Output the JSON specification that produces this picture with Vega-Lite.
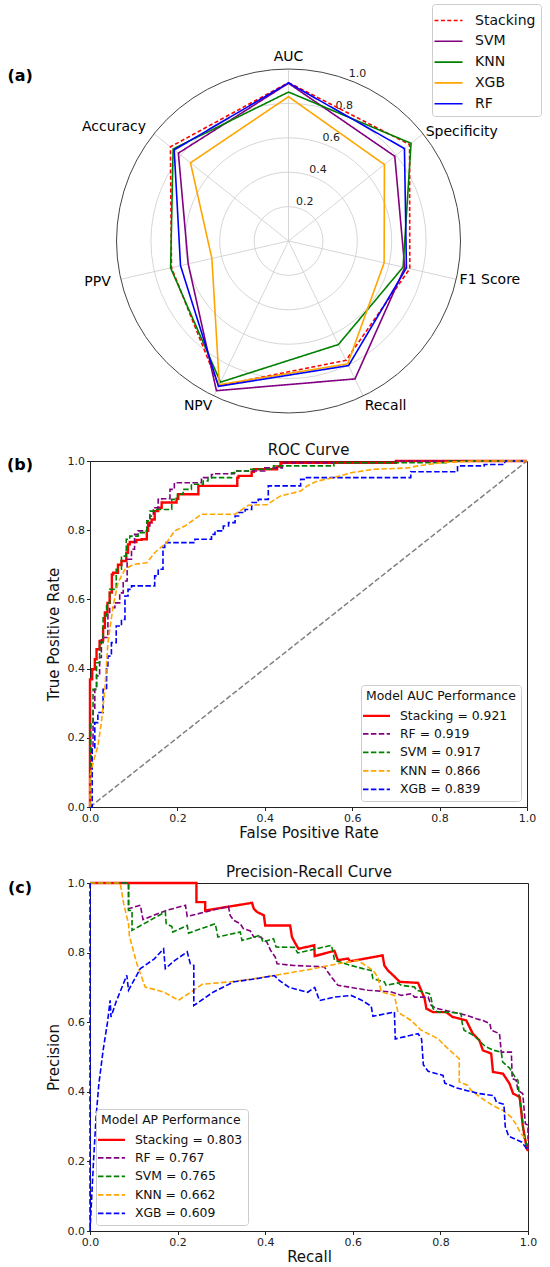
{
"$schema": "https://vega.github.io/schema/vega-lite/v6.json",
"background": "white",
"padding": {"left": 6, "top": 3, "right": 0, "bottom": 0},
"spacing": 23,
"config": {
  "font": "DejaVu Sans",
  "view": {"stroke": "#222222", "strokeWidth": 1},
  "axis": {"grid": false, "domainColor": "#222222", "tickColor": "#222222", "labelColor": "#222222", "titleColor": "#111111", "tickSize": 3.5, "labelFontSize": 11, "titleFontSize": 15, "titleFontWeight": "normal", "labelPadding": 2, "labelFlush": false},
  "axisX": {"titlePadding": 2},
  "axisY": {"titlePadding": 6},
  "title": {"fontSize": 15, "fontWeight": "normal", "color": "#111111", "offset": -3},
  "legend": {"titleFontWeight": "normal", "labelColor": "#111111", "titleColor": "#111111", "strokeColor": "#cccccc", "fillColor": "rgba(255,255,255,0.85)", "cornerRadius": 3}
},
"resolve": {"scale": {"color": "independent", "strokeDash": "independent", "strokeWidth": "independent"}, "legend": {"color": "independent", "strokeDash": "independent", "strokeWidth": "independent"}},
"datasets": {
  "metrics": [
    {"metric": "AUC", "k": 0}, {"metric": "Specificity", "k": 1}, {"metric": "F1 Score", "k": 2}, {"metric": "Recall", "k": 3}, {"metric": "NPV", "k": 4}, {"metric": "PPV", "k": 5}, {"metric": "Accuracy", "k": 6}
  ],
  "radar": [
    {"model": "Stacking", "k": 0, "value": 0.921}, {"model": "Stacking", "k": 1, "value": 0.9}, {"model": "Stacking", "k": 2, "value": 0.723}, {"model": "Stacking", "k": 3, "value": 0.77}, {"model": "Stacking", "k": 4, "value": 0.935}, {"model": "Stacking", "k": 5, "value": 0.698}, {"model": "Stacking", "k": 6, "value": 0.878},
    {"model": "SVM", "k": 0, "value": 0.917}, {"model": "SVM", "k": 1, "value": 0.79}, {"model": "SVM", "k": 2, "value": 0.693}, {"model": "SVM", "k": 3, "value": 0.89}, {"model": "SVM", "k": 4, "value": 0.966}, {"model": "SVM", "k": 5, "value": 0.598}, {"model": "SVM", "k": 6, "value": 0.819},
    {"model": "KNN", "k": 0, "value": 0.866}, {"model": "KNN", "k": 1, "value": 0.911}, {"model": "KNN", "k": 2, "value": 0.683}, {"model": "KNN", "k": 3, "value": 0.668}, {"model": "KNN", "k": 4, "value": 0.911}, {"model": "KNN", "k": 5, "value": 0.703}, {"model": "KNN", "k": 6, "value": 0.858},
    {"model": "XGB", "k": 0, "value": 0.839}, {"model": "XGB", "k": 1, "value": 0.713}, {"model": "XGB", "k": 2, "value": 0.57}, {"model": "XGB", "k": 3, "value": 0.793}, {"model": "XGB", "k": 4, "value": 0.927}, {"model": "XGB", "k": 5, "value": 0.457}, {"model": "XGB", "k": 6, "value": 0.729},
    {"model": "RF", "k": 0, "value": 0.919}, {"model": "RF", "k": 1, "value": 0.862}, {"model": "RF", "k": 2, "value": 0.703}, {"model": "RF", "k": 3, "value": 0.804}, {"model": "RF", "k": 4, "value": 0.938}, {"model": "RF", "k": 5, "value": 0.644}, {"model": "RF", "k": 6, "value": 0.85}
  ],
  "roc": [
    {"model":"Stacking = 0.921","fpr":0,"tpr":0},{"model":"Stacking = 0.921","fpr":0,"tpr":0.253},{"model":"Stacking = 0.921","fpr":0.005,"tpr":0.369},{"model":"Stacking = 0.921","fpr":0.011,"tpr":0.398},{"model":"Stacking = 0.921","fpr":0.015,"tpr":0.427},{"model":"Stacking = 0.921","fpr":0.022,"tpr":0.456},{"model":"Stacking = 0.921","fpr":0.03,"tpr":0.48},{"model":"Stacking = 0.921","fpr":0.034,"tpr":0.518},{"model":"Stacking = 0.921","fpr":0.04,"tpr":0.562},{"model":"Stacking = 0.921","fpr":0.045,"tpr":0.59},{"model":"Stacking = 0.921","fpr":0.05,"tpr":0.62},{"model":"Stacking = 0.921","fpr":0.053,"tpr":0.672},{"model":"Stacking = 0.921","fpr":0.064,"tpr":0.677},{"model":"Stacking = 0.921","fpr":0.072,"tpr":0.7},{"model":"Stacking = 0.921","fpr":0.083,"tpr":0.711},{"model":"Stacking = 0.921","fpr":0.087,"tpr":0.735},{"model":"Stacking = 0.921","fpr":0.091,"tpr":0.759},{"model":"Stacking = 0.921","fpr":0.106,"tpr":0.766},{"model":"Stacking = 0.921","fpr":0.118,"tpr":0.772},{"model":"Stacking = 0.921","fpr":0.13,"tpr":0.774},{"model":"Stacking = 0.921","fpr":0.133,"tpr":0.798},{"model":"Stacking = 0.921","fpr":0.141,"tpr":0.822},{"model":"Stacking = 0.921","fpr":0.148,"tpr":0.831},{"model":"Stacking = 0.921","fpr":0.156,"tpr":0.855},{"model":"Stacking = 0.921","fpr":0.164,"tpr":0.865},{"model":"Stacking = 0.921","fpr":0.171,"tpr":0.88},{"model":"Stacking = 0.921","fpr":0.198,"tpr":0.88},{"model":"Stacking = 0.921","fpr":0.202,"tpr":0.891},{"model":"Stacking = 0.921","fpr":0.217,"tpr":0.904},{"model":"Stacking = 0.921","fpr":0.248,"tpr":0.904},{"model":"Stacking = 0.921","fpr":0.255,"tpr":0.928},{"model":"Stacking = 0.921","fpr":0.337,"tpr":0.928},{"model":"Stacking = 0.921","fpr":0.34,"tpr":0.952},{"model":"Stacking = 0.921","fpr":0.37,"tpr":0.957},{"model":"Stacking = 0.921","fpr":0.375,"tpr":0.969},{"model":"Stacking = 0.921","fpr":0.428,"tpr":0.976},{"model":"Stacking = 0.921","fpr":0.436,"tpr":0.984},{"model":"Stacking = 0.921","fpr":0.474,"tpr":0.995},{"model":"Stacking = 0.921","fpr":0.7,"tpr":0.995},{"model":"Stacking = 0.921","fpr":0.7,"tpr":1},{"model":"Stacking = 0.921","fpr":1,"tpr":1},
    {"model":"RF = 0.919","fpr":0,"tpr":0},{"model":"RF = 0.919","fpr":0.003,"tpr":0.1},{"model":"RF = 0.919","fpr":0.007,"tpr":0.167},{"model":"RF = 0.919","fpr":0.011,"tpr":0.282},{"model":"RF = 0.919","fpr":0.015,"tpr":0.34},{"model":"RF = 0.919","fpr":0.022,"tpr":0.379},{"model":"RF = 0.919","fpr":0.026,"tpr":0.432},{"model":"RF = 0.919","fpr":0.041,"tpr":0.49},{"model":"RF = 0.919","fpr":0.045,"tpr":0.562},{"model":"RF = 0.919","fpr":0.057,"tpr":0.576},{"model":"RF = 0.919","fpr":0.068,"tpr":0.59},{"model":"RF = 0.919","fpr":0.076,"tpr":0.619},{"model":"RF = 0.919","fpr":0.085,"tpr":0.653},{"model":"RF = 0.919","fpr":0.095,"tpr":0.716},{"model":"RF = 0.919","fpr":0.102,"tpr":0.745},{"model":"RF = 0.919","fpr":0.11,"tpr":0.788},{"model":"RF = 0.919","fpr":0.13,"tpr":0.798},{"model":"RF = 0.919","fpr":0.137,"tpr":0.812},{"model":"RF = 0.919","fpr":0.145,"tpr":0.841},{"model":"RF = 0.919","fpr":0.156,"tpr":0.865},{"model":"RF = 0.919","fpr":0.164,"tpr":0.889},{"model":"RF = 0.919","fpr":0.183,"tpr":0.891},{"model":"RF = 0.919","fpr":0.193,"tpr":0.918},{"model":"RF = 0.919","fpr":0.202,"tpr":0.937},{"model":"RF = 0.919","fpr":0.255,"tpr":0.937},{"model":"RF = 0.919","fpr":0.26,"tpr":0.947},{"model":"RF = 0.919","fpr":0.278,"tpr":0.952},{"model":"RF = 0.919","fpr":0.283,"tpr":0.961},{"model":"RF = 0.919","fpr":0.33,"tpr":0.963},{"model":"RF = 0.919","fpr":0.4,"tpr":0.971},{"model":"RF = 0.919","fpr":0.44,"tpr":0.98},{"model":"RF = 0.919","fpr":0.467,"tpr":0.995},{"model":"RF = 0.919","fpr":0.7,"tpr":0.995},{"model":"RF = 0.919","fpr":0.7,"tpr":1},{"model":"RF = 0.919","fpr":1,"tpr":1},
    {"model":"SVM = 0.917","fpr":0,"tpr":0},{"model":"SVM = 0.917","fpr":0.002,"tpr":0.147},{"model":"SVM = 0.917","fpr":0.007,"tpr":0.244},{"model":"SVM = 0.917","fpr":0.015,"tpr":0.34},{"model":"SVM = 0.917","fpr":0.022,"tpr":0.417},{"model":"SVM = 0.917","fpr":0.03,"tpr":0.475},{"model":"SVM = 0.917","fpr":0.038,"tpr":0.552},{"model":"SVM = 0.917","fpr":0.045,"tpr":0.59},{"model":"SVM = 0.917","fpr":0.06,"tpr":0.629},{"model":"SVM = 0.917","fpr":0.072,"tpr":0.687},{"model":"SVM = 0.917","fpr":0.083,"tpr":0.725},{"model":"SVM = 0.917","fpr":0.091,"tpr":0.774},{"model":"SVM = 0.917","fpr":0.11,"tpr":0.783},{"model":"SVM = 0.917","fpr":0.13,"tpr":0.793},{"model":"SVM = 0.917","fpr":0.137,"tpr":0.827},{"model":"SVM = 0.917","fpr":0.148,"tpr":0.855},{"model":"SVM = 0.917","fpr":0.187,"tpr":0.86},{"model":"SVM = 0.917","fpr":0.2,"tpr":0.889},{"model":"SVM = 0.917","fpr":0.213,"tpr":0.904},{"model":"SVM = 0.917","fpr":0.232,"tpr":0.918},{"model":"SVM = 0.917","fpr":0.259,"tpr":0.933},{"model":"SVM = 0.917","fpr":0.27,"tpr":0.942},{"model":"SVM = 0.917","fpr":0.324,"tpr":0.952},{"model":"SVM = 0.917","fpr":0.332,"tpr":0.966},{"model":"SVM = 0.917","fpr":0.362,"tpr":0.971},{"model":"SVM = 0.917","fpr":0.42,"tpr":0.976},{"model":"SVM = 0.917","fpr":0.474,"tpr":0.986},{"model":"SVM = 0.917","fpr":0.558,"tpr":0.986},{"model":"SVM = 0.917","fpr":0.566,"tpr":0.995},{"model":"SVM = 0.917","fpr":0.815,"tpr":0.995},{"model":"SVM = 0.917","fpr":0.815,"tpr":1},{"model":"SVM = 0.917","fpr":1,"tpr":1},
    {"model":"KNN = 0.866","fpr":0,"tpr":0},{"model":"KNN = 0.866","fpr":0,"tpr":0.09},{"model":"KNN = 0.866","fpr":0.007,"tpr":0.128},{"model":"KNN = 0.866","fpr":0.018,"tpr":0.176},{"model":"KNN = 0.866","fpr":0.026,"tpr":0.244},{"model":"KNN = 0.866","fpr":0.034,"tpr":0.34},{"model":"KNN = 0.866","fpr":0.041,"tpr":0.475},{"model":"KNN = 0.866","fpr":0.053,"tpr":0.581},{"model":"KNN = 0.866","fpr":0.064,"tpr":0.648},{"model":"KNN = 0.866","fpr":0.08,"tpr":0.687},{"model":"KNN = 0.866","fpr":0.099,"tpr":0.701},{"model":"KNN = 0.866","fpr":0.13,"tpr":0.706},{"model":"KNN = 0.866","fpr":0.148,"tpr":0.735},{"model":"KNN = 0.866","fpr":0.175,"tpr":0.764},{"model":"KNN = 0.866","fpr":0.194,"tpr":0.798},{"model":"KNN = 0.866","fpr":0.217,"tpr":0.812},{"model":"KNN = 0.866","fpr":0.255,"tpr":0.846},{"model":"KNN = 0.866","fpr":0.332,"tpr":0.846},{"model":"KNN = 0.866","fpr":0.362,"tpr":0.872},{"model":"KNN = 0.866","fpr":0.405,"tpr":0.874},{"model":"KNN = 0.866","fpr":0.436,"tpr":0.899},{"model":"KNN = 0.866","fpr":0.482,"tpr":0.913},{"model":"KNN = 0.866","fpr":0.497,"tpr":0.928},{"model":"KNN = 0.866","fpr":0.52,"tpr":0.942},{"model":"KNN = 0.866","fpr":0.558,"tpr":0.952},{"model":"KNN = 0.866","fpr":0.597,"tpr":0.966},{"model":"KNN = 0.866","fpr":0.65,"tpr":0.976},{"model":"KNN = 0.866","fpr":0.727,"tpr":0.98},{"model":"KNN = 0.866","fpr":0.75,"tpr":0.986},{"model":"KNN = 0.866","fpr":0.803,"tpr":0.995},{"model":"KNN = 0.866","fpr":0.88,"tpr":1},{"model":"KNN = 0.866","fpr":1,"tpr":1},
    {"model":"XGB = 0.839","fpr":0,"tpr":0},{"model":"XGB = 0.839","fpr":0.005,"tpr":0},{"model":"XGB = 0.839","fpr":0.005,"tpr":0.09},{"model":"XGB = 0.839","fpr":0.011,"tpr":0.167},{"model":"XGB = 0.839","fpr":0.018,"tpr":0.244},{"model":"XGB = 0.839","fpr":0.03,"tpr":0.273},{"model":"XGB = 0.839","fpr":0.038,"tpr":0.34},{"model":"XGB = 0.839","fpr":0.041,"tpr":0.408},{"model":"XGB = 0.839","fpr":0.049,"tpr":0.436},{"model":"XGB = 0.839","fpr":0.06,"tpr":0.475},{"model":"XGB = 0.839","fpr":0.072,"tpr":0.523},{"model":"XGB = 0.839","fpr":0.08,"tpr":0.542},{"model":"XGB = 0.839","fpr":0.087,"tpr":0.61},{"model":"XGB = 0.839","fpr":0.095,"tpr":0.629},{"model":"XGB = 0.839","fpr":0.102,"tpr":0.639},{"model":"XGB = 0.839","fpr":0.148,"tpr":0.639},{"model":"XGB = 0.839","fpr":0.156,"tpr":0.668},{"model":"XGB = 0.839","fpr":0.167,"tpr":0.687},{"model":"XGB = 0.839","fpr":0.171,"tpr":0.75},{"model":"XGB = 0.839","fpr":0.183,"tpr":0.764},{"model":"XGB = 0.839","fpr":0.24,"tpr":0.764},{"model":"XGB = 0.839","fpr":0.252,"tpr":0.774},{"model":"XGB = 0.839","fpr":0.278,"tpr":0.774},{"model":"XGB = 0.839","fpr":0.286,"tpr":0.788},{"model":"XGB = 0.839","fpr":0.305,"tpr":0.798},{"model":"XGB = 0.839","fpr":0.317,"tpr":0.812},{"model":"XGB = 0.839","fpr":0.332,"tpr":0.822},{"model":"XGB = 0.839","fpr":0.34,"tpr":0.841},{"model":"XGB = 0.839","fpr":0.355,"tpr":0.851},{"model":"XGB = 0.839","fpr":0.37,"tpr":0.86},{"model":"XGB = 0.839","fpr":0.385,"tpr":0.88},{"model":"XGB = 0.839","fpr":0.408,"tpr":0.889},{"model":"XGB = 0.839","fpr":0.416,"tpr":0.928},{"model":"XGB = 0.839","fpr":0.482,"tpr":0.928},{"model":"XGB = 0.839","fpr":0.49,"tpr":0.947},{"model":"XGB = 0.839","fpr":0.513,"tpr":0.952},{"model":"XGB = 0.839","fpr":0.734,"tpr":0.952},{"model":"XGB = 0.839","fpr":0.742,"tpr":0.969},{"model":"XGB = 0.839","fpr":0.841,"tpr":0.969},{"model":"XGB = 0.839","fpr":0.902,"tpr":0.986},{"model":"XGB = 0.839","fpr":0.949,"tpr":0.99},{"model":"XGB = 0.839","fpr":0.986,"tpr":1},{"model":"XGB = 0.839","fpr":1,"tpr":1}
  ],
  "pr": [
    {"model":"Stacking = 0.803","recall":0,"precision":1},{"model":"Stacking = 0.803","recall":0.243,"precision":1},{"model":"Stacking = 0.803","recall":0.243,"precision":0.945},{"model":"Stacking = 0.803","recall":0.263,"precision":0.945},{"model":"Stacking = 0.803","recall":0.263,"precision":0.921},{"model":"Stacking = 0.803","recall":0.37,"precision":0.943},{"model":"Stacking = 0.803","recall":0.374,"precision":0.926},{"model":"Stacking = 0.803","recall":0.381,"precision":0.917},{"model":"Stacking = 0.803","recall":0.397,"precision":0.907},{"model":"Stacking = 0.803","recall":0.4,"precision":0.878},{"model":"Stacking = 0.803","recall":0.457,"precision":0.878},{"model":"Stacking = 0.803","recall":0.461,"precision":0.845},{"model":"Stacking = 0.803","recall":0.469,"precision":0.826},{"model":"Stacking = 0.803","recall":0.476,"precision":0.811},{"model":"Stacking = 0.803","recall":0.512,"precision":0.821},{"model":"Stacking = 0.803","recall":0.513,"precision":0.79},{"model":"Stacking = 0.803","recall":0.558,"precision":0.805},{"model":"Stacking = 0.803","recall":0.566,"precision":0.778},{"model":"Stacking = 0.803","recall":0.589,"precision":0.783},{"model":"Stacking = 0.803","recall":0.594,"precision":0.775},{"model":"Stacking = 0.803","recall":0.668,"precision":0.792},{"model":"Stacking = 0.803","recall":0.672,"precision":0.763},{"model":"Stacking = 0.803","recall":0.68,"precision":0.749},{"model":"Stacking = 0.803","recall":0.696,"precision":0.73},{"model":"Stacking = 0.803","recall":0.707,"precision":0.716},{"model":"Stacking = 0.803","recall":0.749,"precision":0.713},{"model":"Stacking = 0.803","recall":0.756,"precision":0.692},{"model":"Stacking = 0.803","recall":0.764,"precision":0.668},{"model":"Stacking = 0.803","recall":0.768,"precision":0.639},{"model":"Stacking = 0.803","recall":0.783,"precision":0.629},{"model":"Stacking = 0.803","recall":0.813,"precision":0.629},{"model":"Stacking = 0.803","recall":0.828,"precision":0.615},{"model":"Stacking = 0.803","recall":0.859,"precision":0.605},{"model":"Stacking = 0.803","recall":0.874,"precision":0.567},{"model":"Stacking = 0.803","recall":0.889,"precision":0.548},{"model":"Stacking = 0.803","recall":0.897,"precision":0.519},{"model":"Stacking = 0.803","recall":0.916,"precision":0.51},{"model":"Stacking = 0.803","recall":0.92,"precision":0.457},{"model":"Stacking = 0.803","recall":0.943,"precision":0.452},{"model":"Stacking = 0.803","recall":0.958,"precision":0.423},{"model":"Stacking = 0.803","recall":0.966,"precision":0.395},{"model":"Stacking = 0.803","recall":0.981,"precision":0.385},{"model":"Stacking = 0.803","recall":0.988,"precision":0.304},{"model":"Stacking = 0.803","recall":0.997,"precision":0.237},{"model":"Stacking = 0.803","recall":1,"precision":0.23},
    {"model":"RF = 0.767","recall":0,"precision":1},{"model":"RF = 0.767","recall":0.088,"precision":1},{"model":"RF = 0.767","recall":0.088,"precision":0.926},{"model":"RF = 0.767","recall":0.115,"precision":0.936},{"model":"RF = 0.767","recall":0.121,"precision":0.895},{"model":"RF = 0.767","recall":0.174,"precision":0.921},{"model":"RF = 0.767","recall":0.218,"precision":0.936},{"model":"RF = 0.767","recall":0.222,"precision":0.904},{"model":"RF = 0.767","recall":0.316,"precision":0.933},{"model":"RF = 0.767","recall":0.32,"precision":0.907},{"model":"RF = 0.767","recall":0.328,"precision":0.893},{"model":"RF = 0.767","recall":0.343,"precision":0.883},{"model":"RF = 0.767","recall":0.35,"precision":0.869},{"model":"RF = 0.767","recall":0.366,"precision":0.862},{"model":"RF = 0.767","recall":0.374,"precision":0.845},{"model":"RF = 0.767","recall":0.389,"precision":0.845},{"model":"RF = 0.767","recall":0.404,"precision":0.83},{"model":"RF = 0.767","recall":0.412,"precision":0.807},{"model":"RF = 0.767","recall":0.423,"precision":0.787},{"model":"RF = 0.767","recall":0.427,"precision":0.768},{"model":"RF = 0.767","recall":0.465,"precision":0.763},{"model":"RF = 0.767","recall":0.535,"precision":0.759},{"model":"RF = 0.767","recall":0.543,"precision":0.744},{"model":"RF = 0.767","recall":0.551,"precision":0.73},{"model":"RF = 0.767","recall":0.566,"precision":0.706},{"model":"RF = 0.767","recall":0.634,"precision":0.692},{"model":"RF = 0.767","recall":0.688,"precision":0.687},{"model":"RF = 0.767","recall":0.711,"precision":0.677},{"model":"RF = 0.767","recall":0.734,"precision":0.682},{"model":"RF = 0.767","recall":0.741,"precision":0.672},{"model":"RF = 0.767","recall":0.772,"precision":0.672},{"model":"RF = 0.767","recall":0.779,"precision":0.648},{"model":"RF = 0.767","recall":0.79,"precision":0.64},{"model":"RF = 0.767","recall":0.859,"precision":0.62},{"model":"RF = 0.767","recall":0.882,"precision":0.61},{"model":"RF = 0.767","recall":0.897,"precision":0.605},{"model":"RF = 0.767","recall":0.913,"precision":0.596},{"model":"RF = 0.767","recall":0.916,"precision":0.577},{"model":"RF = 0.767","recall":0.935,"precision":0.567},{"model":"RF = 0.767","recall":0.939,"precision":0.514},{"model":"RF = 0.767","recall":0.962,"precision":0.514},{"model":"RF = 0.767","recall":0.964,"precision":0.438},{"model":"RF = 0.767","recall":0.973,"precision":0.433},{"model":"RF = 0.767","recall":0.977,"precision":0.404},{"model":"RF = 0.767","recall":0.988,"precision":0.395},{"model":"RF = 0.767","recall":0.994,"precision":0.308},{"model":"RF = 0.767","recall":1,"precision":0.304},{"model":"RF = 0.767","recall":1,"precision":0.237},
    {"model":"SVM = 0.765","recall":0,"precision":1},{"model":"SVM = 0.765","recall":0.088,"precision":1},{"model":"SVM = 0.765","recall":0.088,"precision":0.921},{"model":"SVM = 0.765","recall":0.096,"precision":0.921},{"model":"SVM = 0.765","recall":0.096,"precision":0.864},{"model":"SVM = 0.765","recall":0.172,"precision":0.917},{"model":"SVM = 0.765","recall":0.174,"precision":0.883},{"model":"SVM = 0.765","recall":0.187,"precision":0.875},{"model":"SVM = 0.765","recall":0.189,"precision":0.859},{"model":"SVM = 0.765","recall":0.222,"precision":0.878},{"model":"SVM = 0.765","recall":0.225,"precision":0.856},{"model":"SVM = 0.765","recall":0.286,"precision":0.883},{"model":"SVM = 0.765","recall":0.292,"precision":0.845},{"model":"SVM = 0.765","recall":0.343,"precision":0.859},{"model":"SVM = 0.765","recall":0.347,"precision":0.835},{"model":"SVM = 0.765","recall":0.389,"precision":0.85},{"model":"SVM = 0.765","recall":0.395,"precision":0.83},{"model":"SVM = 0.765","recall":0.419,"precision":0.84},{"model":"SVM = 0.765","recall":0.425,"precision":0.816},{"model":"SVM = 0.765","recall":0.467,"precision":0.815},{"model":"SVM = 0.765","recall":0.474,"precision":0.799},{"model":"SVM = 0.765","recall":0.551,"precision":0.821},{"model":"SVM = 0.765","recall":0.555,"precision":0.802},{"model":"SVM = 0.765","recall":0.558,"precision":0.778},{"model":"SVM = 0.765","recall":0.596,"precision":0.763},{"model":"SVM = 0.765","recall":0.623,"precision":0.754},{"model":"SVM = 0.765","recall":0.642,"precision":0.749},{"model":"SVM = 0.765","recall":0.646,"precision":0.725},{"model":"SVM = 0.765","recall":0.672,"precision":0.716},{"model":"SVM = 0.765","recall":0.676,"precision":0.706},{"model":"SVM = 0.765","recall":0.703,"precision":0.713},{"model":"SVM = 0.765","recall":0.711,"precision":0.706},{"model":"SVM = 0.765","recall":0.741,"precision":0.701},{"model":"SVM = 0.765","recall":0.745,"precision":0.692},{"model":"SVM = 0.765","recall":0.775,"precision":0.682},{"model":"SVM = 0.765","recall":0.779,"precision":0.668},{"model":"SVM = 0.765","recall":0.783,"precision":0.639},{"model":"SVM = 0.765","recall":0.794,"precision":0.629},{"model":"SVM = 0.765","recall":0.817,"precision":0.629},{"model":"SVM = 0.765","recall":0.847,"precision":0.625},{"model":"SVM = 0.765","recall":0.85,"precision":0.596},{"model":"SVM = 0.765","recall":0.854,"precision":0.577},{"model":"SVM = 0.765","recall":0.869,"precision":0.567},{"model":"SVM = 0.765","recall":0.881,"precision":0.557},{"model":"SVM = 0.765","recall":0.896,"precision":0.538},{"model":"SVM = 0.765","recall":0.904,"precision":0.529},{"model":"SVM = 0.765","recall":0.923,"precision":0.519},{"model":"SVM = 0.765","recall":0.939,"precision":0.514},{"model":"SVM = 0.765","recall":0.942,"precision":0.486},{"model":"SVM = 0.765","recall":0.958,"precision":0.468},{"model":"SVM = 0.765","recall":0.97,"precision":0.443},{"model":"SVM = 0.765","recall":0.977,"precision":0.433},{"model":"SVM = 0.765","recall":0.981,"precision":0.375},{"model":"SVM = 0.765","recall":0.985,"precision":0.347},{"model":"SVM = 0.765","recall":0.991,"precision":0.27},{"model":"SVM = 0.765","recall":1,"precision":0.237},
    {"model":"KNN = 0.662","recall":0,"precision":1},{"model":"KNN = 0.662","recall":0.069,"precision":1},{"model":"KNN = 0.662","recall":0.077,"precision":0.94},{"model":"KNN = 0.662","recall":0.088,"precision":0.883},{"model":"KNN = 0.662","recall":0.09,"precision":0.847},{"model":"KNN = 0.662","recall":0.107,"precision":0.768},{"model":"KNN = 0.662","recall":0.126,"precision":0.701},{"model":"KNN = 0.662","recall":0.168,"precision":0.687},{"model":"KNN = 0.662","recall":0.202,"precision":0.663},{"model":"KNN = 0.662","recall":0.237,"precision":0.692},{"model":"KNN = 0.662","recall":0.256,"precision":0.709},{"model":"KNN = 0.662","recall":0.32,"precision":0.716},{"model":"KNN = 0.662","recall":0.374,"precision":0.725},{"model":"KNN = 0.662","recall":0.419,"precision":0.734},{"model":"KNN = 0.662","recall":0.507,"precision":0.753},{"model":"KNN = 0.662","recall":0.558,"precision":0.766},{"model":"KNN = 0.662","recall":0.611,"precision":0.778},{"model":"KNN = 0.662","recall":0.634,"precision":0.759},{"model":"KNN = 0.662","recall":0.646,"precision":0.749},{"model":"KNN = 0.662","recall":0.657,"precision":0.73},{"model":"KNN = 0.662","recall":0.665,"precision":0.687},{"model":"KNN = 0.662","recall":0.695,"precision":0.677},{"model":"KNN = 0.662","recall":0.703,"precision":0.629},{"model":"KNN = 0.662","recall":0.733,"precision":0.605},{"model":"KNN = 0.662","recall":0.756,"precision":0.577},{"model":"KNN = 0.662","recall":0.794,"precision":0.553},{"model":"KNN = 0.662","recall":0.813,"precision":0.529},{"model":"KNN = 0.662","recall":0.843,"precision":0.495},{"model":"KNN = 0.662","recall":0.843,"precision":0.428},{"model":"KNN = 0.662","recall":0.862,"precision":0.419},{"model":"KNN = 0.662","recall":0.87,"precision":0.404},{"model":"KNN = 0.662","recall":0.896,"precision":0.38},{"model":"KNN = 0.662","recall":0.919,"precision":0.361},{"model":"KNN = 0.662","recall":0.942,"precision":0.347},{"model":"KNN = 0.662","recall":0.961,"precision":0.328},{"model":"KNN = 0.662","recall":0.972,"precision":0.308},{"model":"KNN = 0.662","recall":0.984,"precision":0.28},{"model":"KNN = 0.662","recall":0.991,"precision":0.27},{"model":"KNN = 0.662","recall":1,"precision":0.26},
    {"model":"XGB = 0.609","recall":0,"precision":1},{"model":"XGB = 0.609","recall":0,"precision":0},{"model":"XGB = 0.609","recall":0.004,"precision":0.1},{"model":"XGB = 0.609","recall":0.008,"precision":0.2},{"model":"XGB = 0.609","recall":0.014,"precision":0.33},{"model":"XGB = 0.609","recall":0.02,"precision":0.42},{"model":"XGB = 0.609","recall":0.03,"precision":0.52},{"model":"XGB = 0.609","recall":0.04,"precision":0.6},{"model":"XGB = 0.609","recall":0.046,"precision":0.663},{"model":"XGB = 0.609","recall":0.048,"precision":0.615},{"model":"XGB = 0.609","recall":0.06,"precision":0.66},{"model":"XGB = 0.609","recall":0.084,"precision":0.735},{"model":"XGB = 0.609","recall":0.088,"precision":0.692},{"model":"XGB = 0.609","recall":0.115,"precision":0.754},{"model":"XGB = 0.609","recall":0.147,"precision":0.782},{"model":"XGB = 0.609","recall":0.168,"precision":0.811},{"model":"XGB = 0.609","recall":0.172,"precision":0.754},{"model":"XGB = 0.609","recall":0.193,"precision":0.777},{"model":"XGB = 0.609","recall":0.222,"precision":0.802},{"model":"XGB = 0.609","recall":0.229,"precision":0.768},{"model":"XGB = 0.609","recall":0.237,"precision":0.763},{"model":"XGB = 0.609","recall":0.237,"precision":0.648},{"model":"XGB = 0.609","recall":0.282,"precision":0.687},{"model":"XGB = 0.609","recall":0.328,"precision":0.716},{"model":"XGB = 0.609","recall":0.375,"precision":0.724},{"model":"XGB = 0.609","recall":0.398,"precision":0.729},{"model":"XGB = 0.609","recall":0.421,"precision":0.734},{"model":"XGB = 0.609","recall":0.432,"precision":0.72},{"model":"XGB = 0.609","recall":0.455,"precision":0.7},{"model":"XGB = 0.609","recall":0.497,"precision":0.686},{"model":"XGB = 0.609","recall":0.513,"precision":0.7},{"model":"XGB = 0.609","recall":0.524,"precision":0.662},{"model":"XGB = 0.609","recall":0.558,"precision":0.672},{"model":"XGB = 0.609","recall":0.596,"precision":0.677},{"model":"XGB = 0.609","recall":0.619,"precision":0.664},{"model":"XGB = 0.609","recall":0.642,"precision":0.646},{"model":"XGB = 0.609","recall":0.646,"precision":0.617},{"model":"XGB = 0.609","recall":0.695,"precision":0.629},{"model":"XGB = 0.609","recall":0.697,"precision":0.552},{"model":"XGB = 0.609","recall":0.749,"precision":0.567},{"model":"XGB = 0.609","recall":0.757,"precision":0.552},{"model":"XGB = 0.609","recall":0.761,"precision":0.478},{"model":"XGB = 0.609","recall":0.772,"precision":0.459},{"model":"XGB = 0.609","recall":0.806,"precision":0.447},{"model":"XGB = 0.609","recall":0.81,"precision":0.425},{"model":"XGB = 0.609","recall":0.838,"precision":0.411},{"model":"XGB = 0.609","recall":0.859,"precision":0.404},{"model":"XGB = 0.609","recall":0.888,"precision":0.395},{"model":"XGB = 0.609","recall":0.922,"precision":0.389},{"model":"XGB = 0.609","recall":0.928,"precision":0.37},{"model":"XGB = 0.609","recall":0.945,"precision":0.364},{"model":"XGB = 0.609","recall":0.948,"precision":0.3},{"model":"XGB = 0.609","recall":0.956,"precision":0.272},{"model":"XGB = 0.609","recall":0.985,"precision":0.256},{"model":"XGB = 0.609","recall":1,"precision":0.232}
  ]
},
"vconcat": [
  {
    "width": 459.5,
    "height": 415,
    "view": {"stroke": null},
    "resolve": {"legend": {"size": "independent"}},
    "layer": [
      {
        "data": {"values": [{"r": 0.2}, {"r": 0.4}, {"r": 0.6}, {"r": 0.8}]},
        "transform": [{"calculate": "0", "as": "o"}],
        "mark": {"type": "point", "shape": "circle", "filled": false, "color": "#cccccc", "strokeWidth": 0.8, "opacity": 1},
        "encoding": {
          "x": {"field": "o", "type": "quantitative", "scale": {"domain": [-1.154, 1.517], "nice": false, "zero": false}, "axis": null},
          "y": {"field": "o", "type": "quantitative", "scale": {"domain": [-1.0349, 1.3779], "nice": false, "zero": false}, "axis": null},
          "size": {"field": "r", "type": "quantitative", "scale": {"type": "pow", "exponent": 2, "domain": [0, 1], "range": [0, 118336]}, "legend": null}
        }
      },
      {
        "data": {"name": "metrics"},
        "transform": [{"calculate": "0", "as": "o"}, {"calculate": "sin(datum.k*2*PI/7)", "as": "ex"}, {"calculate": "cos(datum.k*2*PI/7)", "as": "ey"}],
        "mark": {"type": "rule", "color": "#cccccc", "strokeWidth": 0.8},
        "encoding": {
          "x": {"field": "o", "type": "quantitative", "axis": null},
          "y": {"field": "o", "type": "quantitative", "axis": null},
          "x2": {"field": "ex"},
          "y2": {"field": "ey"}
        }
      },
      {
        "data": {"values": [{"r": 1.0}]},
        "transform": [{"calculate": "0", "as": "o"}],
        "mark": {"type": "point", "shape": "circle", "filled": false, "color": "#444444", "strokeWidth": 1, "opacity": 1},
        "encoding": {
          "x": {"field": "o", "type": "quantitative", "axis": null},
          "y": {"field": "o", "type": "quantitative", "axis": null},
          "size": {"field": "r", "type": "quantitative", "scale": {"type": "pow", "exponent": 2, "domain": [0, 1], "range": [0, 118336]}, "legend": null}
        }
      },
      {
        "data": {"values": [{"r": 0.2, "t": "0.2"}, {"r": 0.4, "t": "0.4"}, {"r": 0.6, "t": "0.6"}, {"r": 0.8, "t": "0.8"}, {"r": 1.0, "t": "1.0"}]},
        "transform": [{"calculate": "(datum.r+0.048)*sin(PI/8)", "as": "lx"}, {"calculate": "(datum.r+0.048)*cos(PI/8)", "as": "ly"}],
        "mark": {"type": "text", "fontSize": 11, "color": "#222222", "align": "center", "baseline": "middle"},
        "encoding": {
          "x": {"field": "lx", "type": "quantitative", "axis": null},
          "y": {"field": "ly", "type": "quantitative", "axis": null},
          "text": {"field": "t"}
        }
      },
      {
        "data": {"name": "radar"},
        "transform": [{"calculate": "datum.value*sin(datum.k*2*PI/7)", "as": "px"}, {"calculate": "datum.value*cos(datum.k*2*PI/7)", "as": "py"}],
        "mark": {"type": "line", "interpolate": "linear-closed", "strokeWidth": 1.6},
        "encoding": {
          "x": {"field": "px", "type": "quantitative", "axis": null},
          "y": {"field": "py", "type": "quantitative", "axis": null},
          "color": {"field": "model", "type": "nominal", "scale": {"domain": ["Stacking", "SVM", "KNN", "XGB", "RF"], "range": ["#ff0000", "#800080", "#008000", "#ffa500", "#0000ff"]},
            "legend": {"title": null, "orient": "none", "legendX": 342, "legendY": 0, "symbolType": "M-1.346,0H1.346", "symbolSize": 433, "symbolStrokeWidth": 1.6, "labelFontSize": 14, "rowPadding": 1.8, "padding": 5, "labelOffset": 15}},
          "strokeDash": {"field": "model", "type": "nominal", "scale": {"domain": ["Stacking", "SVM", "KNN", "XGB", "RF"], "range": [[4, 2.4], [1, 0], [1, 0], [1, 0], [1, 0]]},
            "legend": {"title": null, "orient": "none", "legendX": 342, "legendY": 0, "symbolType": "M-1.346,0H1.346", "symbolSize": 433, "symbolStrokeWidth": 1.6, "labelFontSize": 14, "rowPadding": 1.8, "padding": 5, "labelOffset": 15}},
          "order": {"value": null}
        }
      },
      {
        "data": {"name": "metrics"},
        "transform": [{"filter": "datum.k == 0"}, {"calculate": "1.03*sin(datum.k*2*PI/7)", "as": "lx"}, {"calculate": "1.03*cos(datum.k*2*PI/7)", "as": "ly"}],
        "mark": {"type": "text", "fontSize": 14, "color": "#000000", "align": "center", "baseline": "bottom"},
        "encoding": {"x": {"field": "lx", "type": "quantitative", "axis": null}, "y": {"field": "ly", "type": "quantitative", "axis": null}, "text": {"field": "metric"}}
      },
      {
        "data": {"name": "metrics"},
        "transform": [{"filter": "datum.k == 1 || datum.k == 2"}, {"calculate": "1.02*sin(datum.k*2*PI/7)", "as": "lx"}, {"calculate": "1.02*cos(datum.k*2*PI/7)", "as": "ly"}],
        "mark": {"type": "text", "fontSize": 14, "color": "#000000", "align": "left", "baseline": "middle"},
        "encoding": {"x": {"field": "lx", "type": "quantitative", "axis": null}, "y": {"field": "ly", "type": "quantitative", "axis": null}, "text": {"field": "metric"}}
      },
      {
        "data": {"name": "metrics"},
        "transform": [{"filter": "datum.k == 3"}, {"calculate": "1.02*sin(datum.k*2*PI/7)", "as": "lx"}, {"calculate": "1.02*cos(datum.k*2*PI/7)", "as": "ly"}],
        "mark": {"type": "text", "fontSize": 14, "color": "#000000", "align": "left", "baseline": "top"},
        "encoding": {"x": {"field": "lx", "type": "quantitative", "axis": null}, "y": {"field": "ly", "type": "quantitative", "axis": null}, "text": {"field": "metric"}}
      },
      {
        "data": {"name": "metrics"},
        "transform": [{"filter": "datum.k == 4"}, {"calculate": "1.02*sin(datum.k*2*PI/7)", "as": "lx"}, {"calculate": "1.02*cos(datum.k*2*PI/7)", "as": "ly"}],
        "mark": {"type": "text", "fontSize": 14, "color": "#000000", "align": "right", "baseline": "top"},
        "encoding": {"x": {"field": "lx", "type": "quantitative", "axis": null}, "y": {"field": "ly", "type": "quantitative", "axis": null}, "text": {"field": "metric"}}
      },
      {
        "data": {"name": "metrics"},
        "transform": [{"filter": "datum.k == 5 || datum.k == 6"}, {"calculate": "1.06*sin(datum.k*2*PI/7)", "as": "lx"}, {"calculate": "1.06*cos(datum.k*2*PI/7)", "as": "ly"}],
        "mark": {"type": "text", "fontSize": 14, "color": "#000000", "align": "right", "baseline": "middle"},
        "encoding": {"x": {"field": "lx", "type": "quantitative", "axis": null}, "y": {"field": "ly", "type": "quantitative", "axis": null}, "text": {"field": "metric"}}
      },
      {
        "data": {"values": [{"t": "(a)", "px": -1.56, "py": 0.959}]},
        "mark": {"type": "text", "fontSize": 16, "fontWeight": "bold", "color": "#000000", "align": "center", "baseline": "middle"},
        "encoding": {"x": {"field": "px", "type": "quantitative", "axis": null}, "y": {"field": "py", "type": "quantitative", "axis": null}, "text": {"field": "t"}}
      }
    ]
  },
  {
    "width": 437,
    "height": 346,
    "title": {"text": "ROC Curve"},
    "layer": [
      {
        "data": {"values": [{"v": 0}, {"v": 1}]},
        "mark": {"type": "line", "color": "#808080", "strokeDash": [5.5, 2.4], "strokeWidth": 1.5},
        "encoding": {
          "x": {"field": "v", "type": "quantitative", "scale": {"domain": [0, 1], "nice": false, "zero": false}, "axis": {"title": "False Positive Rate", "values": [0, 0.2, 0.4, 0.6, 0.8, 1], "format": ".1f"}},
          "y": {"field": "v", "type": "quantitative", "scale": {"domain": [0, 1], "nice": false, "zero": false}, "axis": {"title": "True Positive Rate", "values": [0, 0.2, 0.4, 0.6, 0.8, 1], "format": ".1f"}}
        }
      },
      {
        "data": {"name": "roc"},
        "transform": [{"filter": "datum.model != 'KNN = 0.866'"}],
        "mark": {"type": "line", "interpolate": "step-before"},
        "encoding": {
          "x": {"field": "fpr", "type": "quantitative"},
          "y": {"field": "tpr", "type": "quantitative"},
          "color": {"field": "model", "type": "nominal", "scale": {"domain": ["Stacking = 0.921", "RF = 0.919", "SVM = 0.917", "KNN = 0.866", "XGB = 0.839"], "range": ["#ff0000", "#800080", "#008000", "#ffa500", "#0000ff"]},
            "legend": {"title": "Model AUC Performance", "orient": "bottom-right", "offset": 6.5, "labelFontSize": 12.4, "titleFontSize": 12.4, "symbolType": "M-1.475,0H1.475", "symbolSize": 335, "rowPadding": 1.5, "padding": 5, "labelOffset": 13, "titlePadding": 3}},
          "strokeDash": {"field": "model", "type": "nominal", "scale": {"domain": ["Stacking = 0.921", "RF = 0.919", "SVM = 0.917", "KNN = 0.866", "XGB = 0.839"], "range": [[1, 0], [5.5, 2.4], [5.5, 2.4], [5.5, 2.4], [5.5, 2.4]]},
            "legend": {"title": "Model AUC Performance", "orient": "bottom-right", "offset": 6.5, "labelFontSize": 12.4, "titleFontSize": 12.4, "symbolType": "M-1.475,0H1.475", "symbolSize": 335, "rowPadding": 1.5, "padding": 5, "labelOffset": 13, "titlePadding": 3}},
          "strokeWidth": {"field": "model", "type": "nominal", "scale": {"type": "ordinal", "domain": ["Stacking = 0.921", "RF = 0.919", "SVM = 0.917", "KNN = 0.866", "XGB = 0.839"], "range": [2.4, 1.6, 1.6, 1.6, 1.6]},
            "legend": {"title": "Model AUC Performance", "orient": "bottom-right", "offset": 6.5, "labelFontSize": 12.4, "titleFontSize": 12.4, "symbolType": "M-1.475,0H1.475", "symbolSize": 335, "rowPadding": 1.5, "padding": 5, "labelOffset": 13, "titlePadding": 3}},
          "order": {"value": null}
        }
      },
      {
        "data": {"name": "roc"},
        "transform": [{"filter": "datum.model == 'KNN = 0.866'"}],
        "mark": {"type": "line", "interpolate": "linear", "strokeDash": [5.5, 2.4], "strokeWidth": 1.6},
        "encoding": {
          "x": {"field": "fpr", "type": "quantitative"},
          "y": {"field": "tpr", "type": "quantitative"},
          "color": {"field": "model", "type": "nominal"},
          "order": {"value": null}
        }
      },
      {
        "data": {"values": [{"t": "(b)", "px": -0.16, "py": 0.988}]},
        "mark": {"type": "text", "fontSize": 16, "fontWeight": "bold", "color": "#000000", "align": "center", "baseline": "middle"},
        "encoding": {"x": {"field": "px", "type": "quantitative"}, "y": {"field": "py", "type": "quantitative"}, "text": {"field": "t"}}
      }
    ]
  },
  {
    "width": 438,
    "height": 348,
    "title": {"text": "Precision-Recall Curve"},
    "layer": [
      {
        "data": {"name": "pr"},
        "mark": {"type": "line", "interpolate": "linear"},
        "encoding": {
          "x": {"field": "recall", "type": "quantitative", "scale": {"domain": [0, 1], "nice": false, "zero": false}, "axis": {"title": "Recall", "values": [0, 0.2, 0.4, 0.6, 0.8, 1], "format": ".1f"}},
          "y": {"field": "precision", "type": "quantitative", "scale": {"domain": [0, 1], "nice": false, "zero": false}, "axis": {"title": "Precision", "values": [0, 0.2, 0.4, 0.6, 0.8, 1], "format": ".1f"}},
          "color": {"field": "model", "type": "nominal", "scale": {"domain": ["Stacking = 0.803", "RF = 0.767", "SVM = 0.765", "KNN = 0.662", "XGB = 0.609"], "range": ["#ff0000", "#800080", "#008000", "#ffa500", "#0000ff"]},
            "legend": {"title": "Model AP Performance", "orient": "bottom-left", "offset": 6, "labelFontSize": 12.4, "titleFontSize": 12.4, "symbolType": "M-1.475,0H1.475", "symbolSize": 335, "rowPadding": 1.5, "padding": 5, "labelOffset": 13, "titlePadding": 3}},
          "strokeDash": {"field": "model", "type": "nominal", "scale": {"domain": ["Stacking = 0.803", "RF = 0.767", "SVM = 0.765", "KNN = 0.662", "XGB = 0.609"], "range": [[1, 0], [5.5, 2.4], [5.5, 2.4], [5.5, 2.4], [5.5, 2.4]]},
            "legend": {"title": "Model AP Performance", "orient": "bottom-left", "offset": 6, "labelFontSize": 12.4, "titleFontSize": 12.4, "symbolType": "M-1.475,0H1.475", "symbolSize": 335, "rowPadding": 1.5, "padding": 5, "labelOffset": 13, "titlePadding": 3}},
          "strokeWidth": {"field": "model", "type": "nominal", "scale": {"type": "ordinal", "domain": ["Stacking = 0.803", "RF = 0.767", "SVM = 0.765", "KNN = 0.662", "XGB = 0.609"], "range": [2.4, 1.6, 1.6, 1.6, 1.6]},
            "legend": {"title": "Model AP Performance", "orient": "bottom-left", "offset": 6, "labelFontSize": 12.4, "titleFontSize": 12.4, "symbolType": "M-1.475,0H1.475", "symbolSize": 335, "rowPadding": 1.5, "padding": 5, "labelOffset": 13, "titlePadding": 3}},
          "order": {"value": null}
        }
      },
      {
        "data": {"values": [{"t": "(c)", "px": -0.1596, "py": 0.986}]},
        "mark": {"type": "text", "fontSize": 16, "fontWeight": "bold", "color": "#000000", "align": "center", "baseline": "middle"},
        "encoding": {"x": {"field": "px", "type": "quantitative"}, "y": {"field": "py", "type": "quantitative"}, "text": {"field": "t"}}
      }
    ]
  }
]
}
